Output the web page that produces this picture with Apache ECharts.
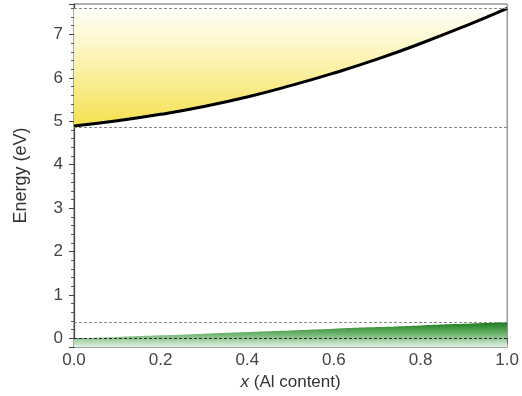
<!DOCTYPE html>
<html>
<head>
<meta charset="utf-8">
<script src="https://cdn.jsdelivr.net/npm/echarts@6/dist/echarts.min.js"></script>
<style>
  html, body { margin: 0; padding: 0; background: #fff; }
  #chart { width: 522px; height: 396px; }
</style>
</head>
<body>
<div id="chart"></div>
<script>
// Al content (x) and band edges
const alContent = [0, 0.1, 0.2, 0.3, 0.4, 0.5, 0.6, 0.7, 0.8, 0.9, 1.0]
const conductionBand = [4.89, 5.01, 5.16, 5.34, 5.56, 5.82, 6.11, 6.43, 6.79, 7.18, 7.6]
const valenceBand = [0, 0.035, 0.07, 0.11, 0.15, 0.185, 0.225, 0.26, 0.3, 0.335, 0.37]
// dashed reference levels
const upperLevels = [7.6, 4.87, 0.37]
const zeroLevel = [0]
const xTicks = [0, 0.2, 0.4, 0.6, 0.8, 1.0]

const pairs = (ys) => alContent.map((x, i) => [x, ys[i]])

const myChart = echarts.init(document.getElementById('chart'))

const font = 'Liberation Sans, Arial, Helvetica, sans-serif'

const option = {
  animation: false,
  grid: {
    left: 74,
    right: 5,
    top: 4,
    bottom: 46,
    show: true,
    borderColor: '#666',
    borderWidth: 1
  },
  xAxis: {
    type: 'value',
    min: xTicks[0],
    max: xTicks[xTicks.length - 1],
    interval: 0.2,
    name: '{i|x} (Al content)',
    nameLocation: 'middle',
    nameGap: 26,
    nameTextStyle: {
      fontFamily: font,
      fontSize: 17,
      color: '#333',
      rich: {
        i: { fontStyle: 'italic', fontFamily: font, fontSize: 17, color: '#333' }
      }
    },
    axisLine: { lineStyle: { color: '#444', width: 1.2 } },
    axisTick: { inside: false, length: 5, lineStyle: { color: '#444' } },
    axisLabel: {
      margin: 5,
      fontFamily: font,
      fontSize: 17,
      color: '#444',
      formatter: (v) => v.toFixed(1)
    },
    splitLine: { show: false }
  },
  yAxis: {
    type: 'value',
    min: -0.2,
    max: 7.7,
    splitNumber: 8,
    name: 'Energy (eV)',
    nameLocation: 'middle',
    nameGap: 44,
    nameTextStyle: { fontFamily: font, fontSize: 18, color: '#333' },
    axisLine: { lineStyle: { color: '#444', width: 1.2 } },
    axisTick: { inside: false, length: 5, lineStyle: { color: '#444' } },
    minorTick: { show: true, splitNumber: 5, length: 3, lineStyle: { color: '#555' } },
    axisLabel: {
      margin: 11,
      fontFamily: font,
      fontSize: 17,
      color: '#444',
      showMinLabel: false,
      showMaxLabel: false
    },
    splitLine: { show: false }
  },
  series: [
    {
      name: 'CB fill',
      type: 'line',
      data: pairs(conductionBand),
      smooth: true,
      symbol: 'none',
      lineStyle: { width: 0 },
      areaStyle: {
        origin: 7.6,
        opacity: 1,
        color: new echarts.graphic.LinearGradient(0, 0, 0, 1, [
          { offset: 0, color: '#fffffb' },
          { offset: 0.5, color: '#fbf1a8' },
          { offset: 1, color: '#f4e150' }
        ])
      },
      z: 1
    },
    {
      name: 'VB fill',
      type: 'line',
      data: pairs(valenceBand),
      smooth: true,
      symbol: 'none',
      lineStyle: { width: 0 },
      areaStyle: {
        origin: 'start',
        opacity: 1,
        color: new echarts.graphic.LinearGradient(0, 0, 0, 1, [
          { offset: 0, color: '#1b7a1b' },
          { offset: 0.5, color: '#74b874' },
          { offset: 1, color: '#e4f2e4' }
        ])
      },
      z: 1
    },
    {
      name: 'levels',
      type: 'line',
      data: [],
      markLine: {
        silent: true,
        symbol: 'none',
        label: { show: false },
        lineStyle: { color: '#888', type: [3, 2], width: 1 },
        data: upperLevels.map((v) => ({ yAxis: v }))
          .concat(zeroLevel.map((v) => ({ yAxis: v, lineStyle: { color: '#222', type: [3, 2], width: 1 } })))
      },
      z: 3
    },
    {
      name: 'CB edge',
      type: 'line',
      data: pairs(conductionBand),
      smooth: true,
      symbol: 'none',
      lineStyle: { color: '#000', width: 3 },
      z: 4
    }
  ]
}

myChart.setOption(option)
</script>
</body>
</html>
